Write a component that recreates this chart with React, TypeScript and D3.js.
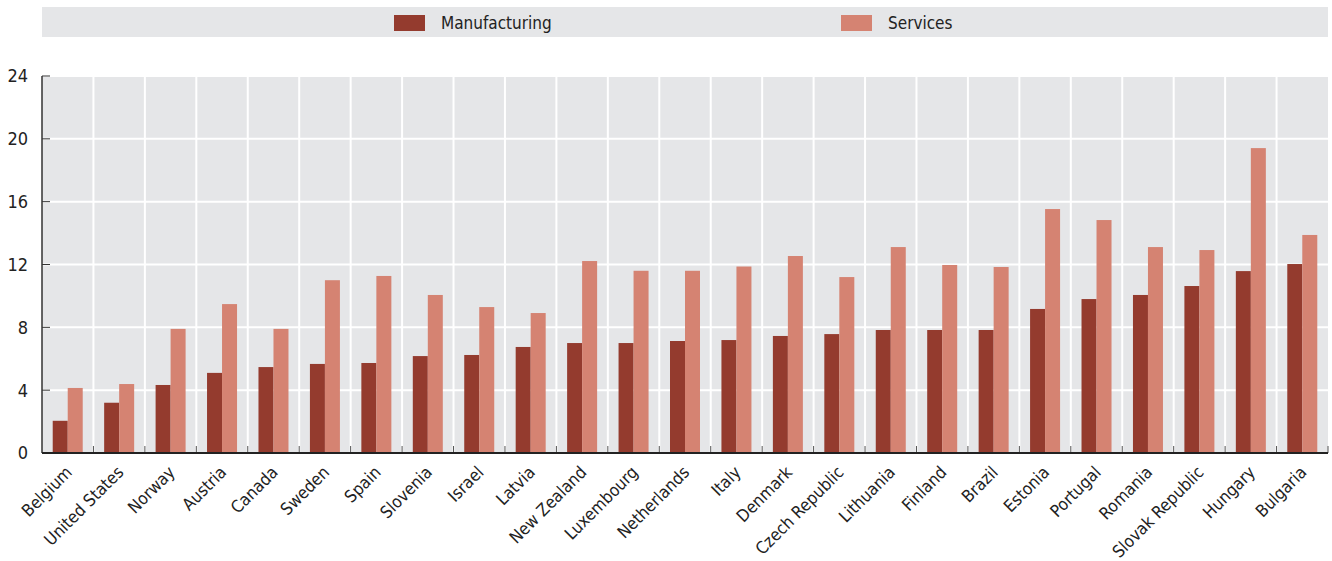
import React from "react";
import * as d3 from "d3";

const categories = [
  "Belgium", "United States", "Norway", "Austria", "Canada", "Sweden", "Spain",
  "Slovenia", "Israel", "Latvia", "New Zealand", "Luxembourg", "Netherlands",
  "Italy", "Denmark", "Czech Republic", "Lithuania", "Finland", "Brazil",
  "Estonia", "Portugal", "Romania", "Slovak Republic", "Hungary", "Bulgaria",
];
const manufacturing = [
  2.05, 3.2, 4.33, 5.1, 5.47, 5.67, 5.73, 6.17, 6.24, 6.75, 7.0, 7.0, 7.13,
  7.19, 7.45, 7.57, 7.83, 7.83, 7.83, 9.17, 9.8, 10.06, 10.63, 11.58, 12.03,
];
const services = [
  4.14, 4.39, 7.9, 9.48, 7.9, 11.0, 11.27, 10.06, 9.29, 8.91, 12.22, 11.6,
  11.6, 11.87, 12.54, 11.2, 13.11, 11.97, 11.84, 15.53, 14.83, 13.11, 12.92,
  19.41, 13.88,
];
const yTicks = [0, 4, 8, 12, 16, 20, 24];
const seriesNames = ["Manufacturing", "Services"];
const colors = ["#943b2e", "#d58372"];

const W = 1332;
const H = 561;
const FONT = "'Liberation Sans Narrow', 'DejaVu Sans Condensed', 'Roboto', sans-serif";

export default function App() {
  const left = 42, right = 1328, top = 76, bottom = 453;
  const x = d3.scaleBand<string>().domain(categories).range([left, right]).paddingInner(0).paddingOuter(0);
  const y = d3.scaleLinear().domain([0, 24]).range([bottom, top]);
  const bw = x.bandwidth();
  const barW = 15;
  const sub = d3.scaleBand<string>().domain(seriesNames).range([0, barW * 2]);
  const bg = "#e5e6e8";

  const boundaries = d3.range(categories.length + 1).map((i) => left + i * bw);

  return (
    <svg width={W} height={H} style={{ position: "absolute", left: 0, top: 0, background: "#fff" }} fontFamily={FONT}>
      {/* legend */}
      <rect x={42} y={7} width={1286} height={30} fill={bg} />
      {seriesNames.map((s, i) => {
        const lx = i === 0 ? 394 : 841;
        return (
          <g key={s}>
            <rect x={lx} y={15} width={31} height={16} fill={colors[i]} />
            <text x={lx + 47} y={28.5} fontSize={17} fill="#222">{s}</text>
          </g>
        );
      })}

      {/* plot background */}
      <rect x={left} y={top} width={right - left} height={bottom - top} fill={bg} />
      {/* horizontal gridlines */}
      {yTicks.filter((t) => t > 0).map((t) => (
        <line key={"h" + t} x1={left} x2={right} y1={y(t)} y2={y(t)} stroke="#fff" strokeWidth={2} />
      ))}
      {/* vertical gridlines */}
      {boundaries.slice(1, -1).map((b, i) => (
        <line key={"v" + i} x1={b} x2={b} y1={top} y2={bottom} stroke="#fff" strokeWidth={2} />
      ))}

      {/* bars */}
      {categories.map((c, i) => {
        const cx = (x(c) as number) + bw / 2;
        const x0 = cx - barW;
        return (
          <g key={c}>
            <rect x={x0 + (sub("Manufacturing") as number)} y={y(manufacturing[i])} width={barW} height={bottom - y(manufacturing[i])} fill={colors[0]} />
            <rect x={x0 + (sub("Services") as number)} y={y(services[i])} width={barW} height={bottom - y(services[i])} fill={colors[1]} />
          </g>
        );
      })}

      {/* bottom ticks */}
      {boundaries.slice(1).map((b, i) => (
        <line key={"bt" + i} x1={b} x2={b} y1={bottom - 7} y2={bottom} stroke="#555" strokeWidth={1} />
      ))}
      {/* y ticks */}
      {yTicks.map((t) => (
        <g key={"yt" + t}>
          <line x1={left} x2={left + 8} y1={y(t)} y2={y(t)} stroke="#333" strokeWidth={1} />
          <text x={28} y={y(t)} dy="0.36em" textAnchor="end" fontSize={18} fill="#222">{t}</text>
        </g>
      ))}
      {/* axes */}
      <line x1={left} x2={left} y1={top} y2={bottom} stroke="#333" strokeWidth={1.5} />
      <line x1={left} x2={right} y1={bottom} y2={bottom} stroke="#222" strokeWidth={2} />

      {/* category labels */}
      {categories.map((c) => {
        const cx = (x(c) as number) + bw / 2;
        return (
          <text key={"l" + c} transform={`translate(${cx - 3},${bottom + 12}) rotate(-45)`} textAnchor="end" dy="0.7em" fontSize={17} fill="#222">
            {c}
          </text>
        );
      })}
    </svg>
  );
}
